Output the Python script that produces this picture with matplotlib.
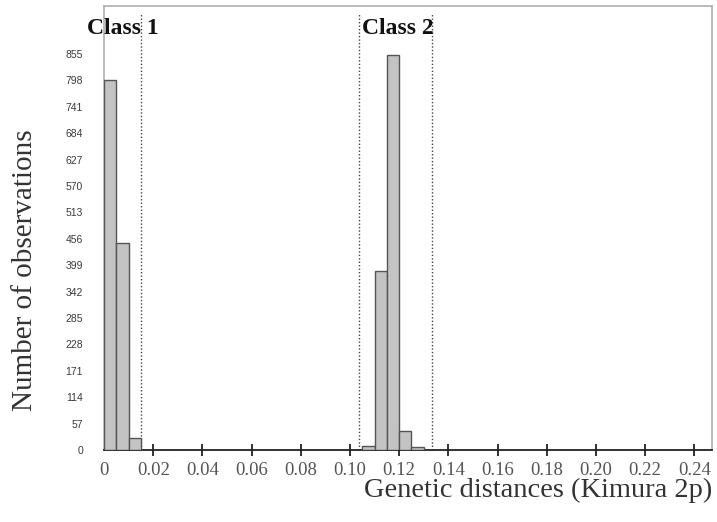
import numpy as np
import matplotlib.pyplot as plt

plt.rcParams['font.family'] = ['Liberation Serif', 'DejaVu Serif']
plt.rcParams['figure.facecolor'] = 'white'
plt.rcParams['axes.facecolor'] = 'white'

BIN_WIDTH = 0.005

# class 1 bins (left edges) and counts
class1_left = [0.000, 0.005, 0.010]
class1_counts = [798, 447, 25]

# class 2 bins (left edges) and counts
class2_left = [0.105, 0.110, 0.115, 0.120, 0.125]
class2_counts = [9, 386, 853, 41, 7]

# class boundaries (dotted lines)
class_bounds = [0.015, 0.1035, 0.1335]
class_names = ['Class 1', 'Class 2']
class_label_x = [0.0075, 0.1195]

y_ticks = list(range(0, 856, 57))
x_ticks = [0.0, 0.02, 0.04, 0.06, 0.08, 0.10, 0.12, 0.14, 0.16, 0.18, 0.20, 0.22, 0.24]
x_tick_labels = ['0', '0.02', '0.04', '0.06', '0.08', '0.10', '0.12', '0.14',
                 '0.16', '0.18', '0.20', '0.22', '0.24']

fig = plt.figure(figsize=(7.17, 5.22), dpi=100)
ax = fig.add_axes([104 / 717, 1 - 450 / 522, 608 / 717, 444 / 522])

lefts = class1_left + class2_left
counts = class1_counts + class2_counts
ax.bar(lefts, counts, width=BIN_WIDTH, align='edge',
       color='#c3c3c3', edgecolor='#555555', linewidth=1.0, zorder=3)

ax.vlines(class_bounds, 0, 942, colors='#444444', linestyles=(0, (1, 1.5)),
          linewidth=1.0, zorder=2)

for name, xc in zip(class_names, class_label_x):
    ax.text(xc, 910, name, ha='center', va='center', fontsize=17,
            fontweight='bold', color='#111111', zorder=4)

ax.set_xlim(0, 0.2472)
ax.set_ylim(0, 958.6)

ax.set_yticks(y_ticks)
ax.set_yticklabels([str(v) for v in y_ticks], family='Liberation Sans',
                   fontsize=7.5, color='#3a3a3a')
ax.tick_params(axis='y', length=0, pad=15)

ax.set_xticks(x_ticks)
ax.set_xticklabels(x_tick_labels, fontsize=13.5, color='#555555')
ax.tick_params(axis='x', direction='inout', length=9, width=1.3,
               color='#222222', pad=4)
ax.get_xaxis().get_major_ticks()[0].tick1line.set_visible(False)

for side in ['left', 'top', 'right']:
    ax.spines[side].set_color('#b0b0b0')
    ax.spines[side].set_linewidth(1.2)
ax.spines['bottom'].set_color('#222222')
ax.spines['bottom'].set_linewidth(1.3)

fig.text(712 / 717, 1 - 478 / 522, 'Genetic distances (Kimura 2p)',
         ha='right', va='top', fontsize=20.5, color='#333333')
fig.text(25 / 717, 1 - 270 / 522, 'Number of observations',
         ha='center', va='center', rotation=90, fontsize=21, color='#333333')

fig.savefig('out.png', dpi=100)
